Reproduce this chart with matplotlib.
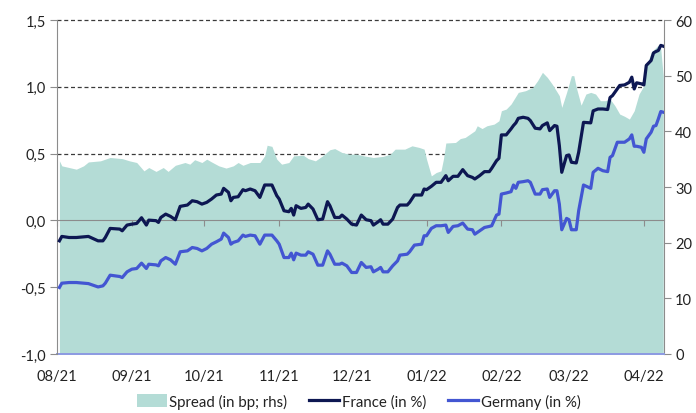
import numpy as np
import matplotlib
matplotlib.use('Agg')
import matplotlib.pyplot as plt
import matplotlib.dates as mdates
import matplotlib.transforms as mtransforms
from matplotlib.patches import Patch
from matplotlib.ticker import FuncFormatter, MultipleLocator

plt.rcParams['font.family'] = ['Lato', 'DejaVu Sans']

# days since 1 Aug 2021
line_days = [
    1, 2, 5, 8, 13, 17, 19, 20, 22, 26, 27, 29, 31, 33, 35, 37, 38, 41, 42, 43,
    45, 47, 49, 51, 54, 56, 58, 60,
    62, 64, 66, 68, 69, 71, 72, 73, 75, 77, 78, 80, 82, 84, 86, 89, 91, 92, 94,
    96, 97, 98, 99, 101, 103, 104, 106, 108, 110, 112, 113, 115, 117, 118, 120,
    122, 124, 126,
    128, 130, 131, 133, 134, 135, 137, 139, 141, 142, 145, 146, 148, 151, 152,
    153, 155, 157, 159, 161, 162, 164, 166, 168, 170, 172, 173, 175, 177, 179,
    180, 182, 183, 184,
    186, 188, 189, 190, 191, 193, 195, 196, 198, 200, 201, 203, 204, 206, 207,
    208, 209, 211, 212, 213, 215, 216, 218, 221, 222, 224, 226, 228, 229, 230,
    232, 233, 235, 237, 238, 239, 240, 242, 243, 244, 246, 247, 248, 249, 250, 251,
]
france = [
    -0.153, -0.120, -0.128, -0.128, -0.120, -0.153, -0.153, -0.128, -0.060, -0.065,
    -0.078, -0.035, -0.028, -0.023, 0.020, -0.035, 0.002, -0.002, -0.015, 0.022,
    0.047, 0.030, 0.005, 0.105, 0.115, 0.147, 0.140, 0.122,
    0.135, 0.16, 0.19, 0.197, 0.24, 0.21, 0.147, 0.172, 0.177, 0.23, 0.222, 0.235,
    0.222, 0.172, 0.265, 0.265, 0.185, 0.16, 0.072, 0.065, 0.09, 0.04, 0.11, 0.09,
    0.097, 0.122, 0.085, 0.005, 0.01, 0.14, 0.11, 0.022, 0.022, 0.04, 0.01,
    -0.028, -0.035, 0.04,
    0.005, -0.002, -0.035, -0.01, 0.005, -0.028, -0.028, 0.01, 0.097, 0.115,
    0.115, 0.135, 0.19, 0.19, 0.235, 0.23, 0.255, 0.285, 0.285, 0.335, 0.297,
    0.33, 0.33, 0.38, 0.335, 0.322, 0.31, 0.335, 0.365, 0.365, 0.39, 0.447,
    0.465, 0.64,
    0.64, 0.685, 0.71, 0.73, 0.764, 0.772, 0.764, 0.747, 0.69, 0.685, 0.71, 0.73,
    0.672, 0.71, 0.705, 0.56, 0.36, 0.485, 0.49, 0.435, 0.43, 0.51, 0.734, 0.73,
    0.82, 0.834, 0.834, 0.83, 0.92, 0.934, 0.984, 1.01, 1.014, 1.034, 1.072,
    0.984, 1.03, 1.022, 1.014, 1.16, 1.197, 1.254, 1.264, 1.272, 1.31, 1.304,
]
germany = [
    -0.502, -0.470, -0.465, -0.465, -0.473, -0.498, -0.490, -0.470, -0.410, -0.420,
    -0.428, -0.385, -0.365, -0.360, -0.320, -0.360, -0.328, -0.333, -0.340, -0.303,
    -0.278, -0.295, -0.328, -0.235, -0.228, -0.203, -0.210, -0.228,
    -0.21, -0.178, -0.16, -0.14, -0.095, -0.128, -0.178, -0.165, -0.153, -0.11,
    -0.12, -0.11, -0.115, -0.178, -0.11, -0.11, -0.153, -0.178, -0.278, -0.278,
    -0.245, -0.295, -0.245, -0.26, -0.26, -0.235, -0.253, -0.335, -0.335, -0.228,
    -0.253, -0.328, -0.328, -0.32, -0.34, -0.39, -0.39, -0.315,
    -0.352, -0.347, -0.385, -0.365, -0.352, -0.385, -0.385, -0.34, -0.303, -0.26,
    -0.253, -0.235, -0.185, -0.178, -0.115, -0.115, -0.06, -0.04, -0.04, -0.035,
    -0.09, -0.045, -0.04, -0.02, -0.065, -0.07, -0.103, -0.078, -0.053, -0.045,
    -0.04, 0.04, 0.047, 0.197,
    0.205, 0.215, 0.265, 0.24, 0.285, 0.29, 0.297, 0.285, 0.197, 0.197, 0.23,
    0.235, 0.172, 0.222, 0.222, 0.122, -0.07, 0.015, 0.005, -0.07, -0.07, 0.072,
    0.265, 0.24, 0.36, 0.39, 0.372, 0.365, 0.472, 0.485, 0.585, 0.585, 0.585,
    0.61, 0.64, 0.555, 0.555, 0.547, 0.51, 0.61, 0.66, 0.705, 0.71, 0.76, 0.815, 0.81,
]

spread_days = [
    1, 2, 5, 8, 11, 13, 18, 22, 27, 30, 33, 36, 38, 41, 44, 46, 49, 53, 55, 57, 60,
    62, 64, 67, 70, 73, 75, 77, 80, 84, 86, 87, 89, 91, 93, 96, 98, 102, 104, 107,
    110, 113, 115, 118, 121, 124, 127,
    131, 135, 138, 140, 144, 147, 150, 152, 153, 155, 157, 159, 160, 161, 165, 167,
    169, 171, 173, 174, 176, 178, 181, 183, 184,
    186, 188, 191, 194, 197, 199, 201, 203, 205, 208, 209, 211, 213, 214, 215, 217,
    219, 221, 223, 225, 227, 229, 231, 233, 235, 237, 239, 241, 243, 244, 246, 249,
    250, 251,
]
spread = [
    34.7, 33.8, 33.5, 33.2, 33.8, 34.5, 34.7, 35.3, 35.1, 34.7, 34.4, 32.9, 33.5,
    32.8, 33.5, 32.8, 33.9, 34.4, 34.1, 34.9, 34.4,
    35.0, 34.5, 33.8, 33.4, 33.8, 34.4, 33.9, 34.4, 34.4, 35.6, 37.5, 37.3, 35.0,
    34.1, 34.4, 35.6, 35.7, 35.1, 34.7, 35.6, 36.7, 36.9, 36.2, 35.9, 35.9, 35.6,
    35.3, 35.5, 35.9, 36.8, 36.8, 37.4, 37.1, 36.8, 35.0, 32.0, 32.6, 32.9, 35.0,
    37.9, 38.0, 38.7, 38.9, 39.5, 40.1, 41.0, 40.5, 41.0, 41.3, 41.9, 43.7,
    44.0, 44.9, 47.0, 47.3, 47.9, 49.1, 50.6, 49.7, 48.5, 46.4, 44.3, 47.0, 50.0,
    50.0, 47.9, 44.7, 46.7, 47.0, 46.7, 45.5, 45.5, 45.8, 44.6, 43.1, 42.7, 42.2,
    43.7, 46.7, 48.2, 51.5, 54.2, 55.5, 54.8, 50.0,
]

start = np.datetime64('2021-08-01')
line_dates = start + np.array(line_days).astype('timedelta64[D]')
spread_dates = start + np.array(spread_days).astype('timedelta64[D]')

c_area = '#b4dcd6'
c_fr = '#0d1752'
c_de = '#4356d2'
c_axis = '#8c8c8c'

fig = plt.figure(figsize=(6.96, 4.14), dpi=100)
ax = fig.add_axes([57 / 696, 1 - 355 / 414, 607 / 696, 334 / 414])
axr = ax.twinx()
ax.set_zorder(axr.get_zorder() + 1)
ax.patch.set_visible(False)
axr.patch.set_visible(True)
axr.patch.set_facecolor('white')

# gridlines sit behind the area, so they live on the lower (right) axes
blend = mtransforms.blended_transform_factory(axr.transAxes, ax.transData)
for y in [0.5, 1.0, 1.5]:
    axr.plot([0, 1], [y, y], transform=blend, color='#3a3a3a', lw=0.9,
             ls=(0, (3.2, 2.2)), zorder=0, clip_on=False)

area = axr.fill_between(spread_dates, 0, spread, color=c_area, lw=0, zorder=1,
                        label='Spread (in bp; rhs)')
l_fr, = ax.plot(line_dates, france, color=c_fr, lw=2.3, solid_joinstyle='round',
                label='France (in %)', zorder=3)
l_de, = ax.plot(line_dates, germany, color=c_de, lw=2.3, solid_joinstyle='round',
                label='Germany (in %)', zorder=3)

ax.set_ylim(-1.0, 1.5)
axr.set_ylim(0, 60)
ax.set_xlim(start, start + np.timedelta64(251 * 24 + 8, 'h'))

ax.yaxis.set_major_locator(MultipleLocator(0.5))
ax.yaxis.set_major_formatter(FuncFormatter(lambda v, p: f'{v:.1f}'.replace('.', ',')))
axr.yaxis.set_major_locator(MultipleLocator(10))

ax.xaxis.set_major_locator(mdates.MonthLocator())
ax.xaxis.set_major_formatter(mdates.DateFormatter('%m/%y'))

# zero line with month ticks
for s in ['top', 'right']:
    ax.spines[s].set_visible(False)
ax.spines['bottom'].set_position(('data', 0))
ax.spines['bottom'].set_color(c_axis)
ax.spines['bottom'].set_zorder(2)
ax.spines['left'].set_color(c_axis)
ax.tick_params(axis='x', direction='out', length=4, color=c_axis, labelbottom=False)
ax.tick_params(axis='y', direction='out', length=5, color=c_axis, labelsize=10.5,
               labelcolor='#222222', pad=3)

axr.xaxis.set_visible(True)
axr.tick_params(axis='x', length=0, labelsize=10.5, labelcolor='#222222', pad=11)
for s in ['top', 'left']:
    axr.spines[s].set_visible(False)
axr.spines['bottom'].set_color('#8c9ae2')
axr.spines['bottom'].set_linewidth(1.4)
axr.spines['right'].set_color(c_axis)
axr.tick_params(axis='y', direction='out', length=5, color=c_axis, labelsize=10.5,
                labelcolor='#222222', pad=3)

handles = [Patch(facecolor=c_area, edgecolor='none'), l_fr, l_de]
labels = ['Spread (in bp; rhs)', 'France (in %)', 'Germany (in %)']
fig.legend(handles, labels, loc='center', bbox_to_anchor=(0.515, 0.029), ncol=3,
           frameon=False, fontsize=10.8, handlelength=2.0, handleheight=0.9,
           handletextpad=0.15, columnspacing=1.5, labelcolor='#222222',
           borderpad=0.1)

fig.savefig('out.png', dpi=100)
